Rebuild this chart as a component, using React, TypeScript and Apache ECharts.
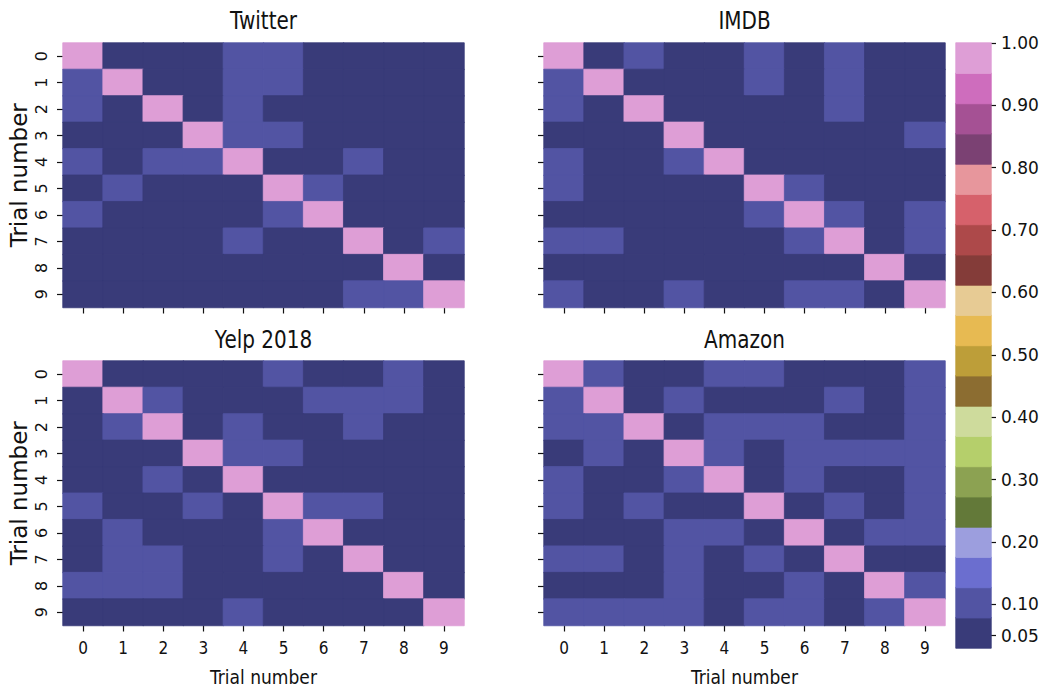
import React, { useEffect, useRef } from "react";
import * as echarts from "echarts";

const trials = ["0", "1", "2", "3", "4", "5", "6", "7", "8", "9"];
const panelTitles = ["Twitter", "IMDB", "Yelp 2018", "Amazon"];

const twitter = [
  [1, 0.05, 0.05, 0.05, 0.1, 0.1, 0.05, 0.05, 0.05, 0.05],
  [0.1, 1, 0.05, 0.05, 0.1, 0.1, 0.05, 0.05, 0.05, 0.05],
  [0.1, 0.05, 1, 0.05, 0.1, 0.05, 0.05, 0.05, 0.05, 0.05],
  [0.05, 0.05, 0.05, 1, 0.1, 0.1, 0.05, 0.05, 0.05, 0.05],
  [0.1, 0.05, 0.1, 0.1, 1, 0.05, 0.05, 0.1, 0.05, 0.05],
  [0.05, 0.1, 0.05, 0.05, 0.05, 1, 0.1, 0.05, 0.05, 0.05],
  [0.1, 0.05, 0.05, 0.05, 0.05, 0.1, 1, 0.05, 0.05, 0.05],
  [0.05, 0.05, 0.05, 0.05, 0.1, 0.05, 0.05, 1, 0.05, 0.1],
  [0.05, 0.05, 0.05, 0.05, 0.05, 0.05, 0.05, 0.05, 1, 0.05],
  [0.05, 0.05, 0.05, 0.05, 0.05, 0.05, 0.05, 0.1, 0.1, 1],
];

const imdb = [
  [1, 0.05, 0.1, 0.05, 0.05, 0.1, 0.05, 0.1, 0.05, 0.05],
  [0.1, 1, 0.05, 0.05, 0.05, 0.1, 0.05, 0.1, 0.05, 0.05],
  [0.1, 0.05, 1, 0.05, 0.05, 0.05, 0.05, 0.1, 0.05, 0.05],
  [0.05, 0.05, 0.05, 1, 0.05, 0.05, 0.05, 0.05, 0.05, 0.1],
  [0.1, 0.05, 0.05, 0.1, 1, 0.05, 0.05, 0.05, 0.05, 0.05],
  [0.1, 0.05, 0.05, 0.05, 0.05, 1, 0.1, 0.05, 0.05, 0.05],
  [0.05, 0.05, 0.05, 0.05, 0.05, 0.1, 1, 0.1, 0.05, 0.1],
  [0.1, 0.1, 0.05, 0.05, 0.05, 0.05, 0.1, 1, 0.05, 0.1],
  [0.05, 0.05, 0.05, 0.05, 0.05, 0.05, 0.05, 0.05, 1, 0.05],
  [0.1, 0.05, 0.05, 0.1, 0.05, 0.05, 0.1, 0.1, 0.05, 1],
];

const yelp = [
  [1, 0.05, 0.05, 0.05, 0.05, 0.1, 0.05, 0.05, 0.1, 0.05],
  [0.05, 1, 0.1, 0.05, 0.05, 0.05, 0.1, 0.1, 0.1, 0.05],
  [0.05, 0.1, 1, 0.05, 0.1, 0.05, 0.05, 0.1, 0.05, 0.05],
  [0.05, 0.05, 0.05, 1, 0.1, 0.1, 0.05, 0.05, 0.05, 0.05],
  [0.05, 0.05, 0.1, 0.05, 1, 0.05, 0.05, 0.05, 0.05, 0.05],
  [0.1, 0.05, 0.05, 0.1, 0.05, 1, 0.1, 0.1, 0.05, 0.05],
  [0.05, 0.1, 0.05, 0.05, 0.05, 0.1, 1, 0.05, 0.05, 0.05],
  [0.05, 0.1, 0.1, 0.05, 0.05, 0.1, 0.05, 1, 0.05, 0.05],
  [0.1, 0.1, 0.1, 0.05, 0.05, 0.05, 0.05, 0.05, 1, 0.05],
  [0.05, 0.05, 0.05, 0.05, 0.1, 0.05, 0.05, 0.05, 0.05, 1],
];

const amazon = [
  [1, 0.1, 0.05, 0.05, 0.1, 0.1, 0.05, 0.05, 0.05, 0.1],
  [0.1, 1, 0.05, 0.1, 0.05, 0.05, 0.05, 0.1, 0.05, 0.1],
  [0.1, 0.1, 1, 0.05, 0.1, 0.1, 0.1, 0.05, 0.05, 0.1],
  [0.05, 0.1, 0.05, 1, 0.1, 0.05, 0.1, 0.1, 0.1, 0.1],
  [0.1, 0.05, 0.05, 0.1, 1, 0.05, 0.1, 0.05, 0.05, 0.1],
  [0.1, 0.05, 0.1, 0.05, 0.05, 1, 0.05, 0.1, 0.05, 0.1],
  [0.05, 0.05, 0.05, 0.1, 0.1, 0.05, 1, 0.05, 0.1, 0.1],
  [0.1, 0.1, 0.05, 0.1, 0.05, 0.1, 0.05, 1, 0.05, 0.05],
  [0.05, 0.05, 0.05, 0.1, 0.05, 0.05, 0.1, 0.05, 1, 0.1],
  [0.1, 0.1, 0.1, 0.1, 0.05, 0.1, 0.1, 0.05, 0.1, 1],
];

const colorbarTicks = [0.05, 0.1, 0.2, 0.3, 0.4, 0.5, 0.6, 0.7, 0.8, 0.9, 1.0];
const tab20bReversed = [
  "#393b79", "#5254a3", "#6b6ecf", "#9c9ede",
  "#637939", "#8ca252", "#b5cf6b", "#cedb9c",
  "#8c6d31", "#bd9e39", "#e7ba52", "#e7cb94",
  "#843c39", "#ad494a", "#d6616b", "#e7969c",
  "#7b4173", "#a55194", "#ce6dbd", "#de9ed6",
];
const vmin = 0.03;
const vmax = 1.0;

export default function App() {
  const ref = useRef<HTMLDivElement>(null);

  useEffect(() => {
    if (!ref.current) return;
    const chart = echarts.init(ref.current, undefined, { renderer: "svg" });
    const matrices = [twitter, imdb, yelp, amazon];
    const nBins = tab20bReversed.length;
    const step = (vmax - vmin) / nBins;
    const binOf = (v: number) => Math.min(nBins - 1, Math.max(0, Math.floor((v - vmin) / step)));
    const pieces = tab20bReversed.map((c, i) => ({
      gte: vmin + i * step,
      lt: i === nBins - 1 ? vmax + 0.01 : vmin + (i + 1) * step,
      color: c,
    }));
    const cell = (x: number, y: number, v: number) => {
      const c = tab20bReversed[binOf(v)];
      return { value: [x, y, v], itemStyle: { borderColor: c, borderWidth: 0.8 } };
    };
    const binIdx = tab20bReversed.map((_, i) => String(i));
    const binData = tab20bReversed.map((_, i) => cell(0, i, vmin + (i + 0.5) * step));

    const font = "'DejaVu Sans Condensed', 'DejaVu Sans', sans-serif";
    const plain = "'DejaVu Sans', sans-serif";
    const txt = "#111";
    const lefts = [63, 544, 63, 544];
    const tops = [43, 43, 361, 361];
    const W = 401;
    const H = 264.5;

    const grids: any[] = lefts.map((l, i) => ({ left: l, top: tops[i], width: W, height: H }));
    grids.push({ left: 956, top: 43, width: 35, height: 605 });

    const xAxes: any[] = lefts.map((_, i) => {
      const bottom = i >= 2;
      return {
        type: "category",
        gridIndex: i,
        data: trials,
        axisLine: { show: false },
        axisTick: { show: true, alignWithLabel: true, length: 6, lineStyle: { color: txt, width: 1.2 } },
        axisLabel: { show: bottom, fontSize: 17, fontFamily: font, color: txt, margin: 14 },
        splitLine: { show: false },
        name: bottom ? "Trial number" : "",
        nameLocation: "middle",
        nameGap: 42,
        nameTextStyle: { fontSize: 19, fontFamily: font, color: txt },
      };
    });
    xAxes.push({ type: "category", gridIndex: 4, data: ["c"], show: false });

    const yAxes: any[] = lefts.map((_, i) => {
      const left = i % 2 === 0;
      return {
        type: "category",
        gridIndex: i,
        data: trials,
        inverse: true,
        axisLine: { show: false },
        axisTick: { show: true, alignWithLabel: true, length: 6, lineStyle: { color: txt, width: 1.2 } },
        axisLabel: { show: left, rotate: 90, fontSize: 16, fontFamily: plain, color: txt, margin: 14 },
        splitLine: { show: false },
        name: left ? "Trial number" : "",
        nameLocation: "middle",
        nameGap: 33,
        nameTextStyle: { fontSize: 23, fontFamily: plain, color: txt },
      };
    });
    yAxes.push({ type: "category", gridIndex: 4, data: binIdx, show: false });
    yAxes.push({
      type: "value",
      gridIndex: 4,
      position: "right",
      min: vmin,
      max: vmax,
      axisLine: { show: false },
      splitLine: { show: false },
      axisTick: { show: true, customValues: colorbarTicks, length: 5, lineStyle: { color: txt, width: 1.2 } },
      axisLabel: {
        show: true,
        customValues: colorbarTicks,
        formatter: (v: number) => v.toFixed(2),
        fontSize: 17,
        fontFamily: plain,
        color: txt,
        margin: 10,
      },
    });

    const series: any[] = matrices.map((m, i) => {
      const data: any[] = [];
      m.forEach((row, r) => row.forEach((v, c) => data.push(cell(c, r, v))));
      return {
        type: "heatmap",
        xAxisIndex: i,
        yAxisIndex: i,
        data,
        emphasis: { disabled: true },
        progressive: 0,
      };
    });
    series.push({
      type: "heatmap",
      xAxisIndex: 4,
      yAxisIndex: 4,
      data: binData,
      emphasis: { disabled: true },
      progressive: 0,
    });

    const titleY = [20, 20, 339, 339];
    const graphic = panelTitles.map((t, i) => ({
      type: "text",
      x: lefts[i] + W / 2,
      y: titleY[i],
      scaleX: 0.8,
      style: {
        text: t,
        fontSize: 25,
        fontFamily: plain,
        fill: txt,
        align: "center",
        verticalAlign: "middle",
        textAlign: "center",
        textVerticalAlign: "middle",
      },
    }));

    chart.setOption({
      animation: false,
      backgroundColor: "#ffffff",
      grid: grids,
      xAxis: xAxes,
      yAxis: yAxes,
      visualMap: {
        type: "piecewise",
        show: false,
        dimension: 2,
        seriesIndex: [0, 1, 2, 3, 4],
        pieces,
      },
      series,
      graphic,
    });
    return () => chart.dispose();
  }, []);

  return (
    <div
      ref={ref}
      style={{ position: "fixed", left: 0, top: 0, width: 1044, height: 690 }}
    />
  );
}
